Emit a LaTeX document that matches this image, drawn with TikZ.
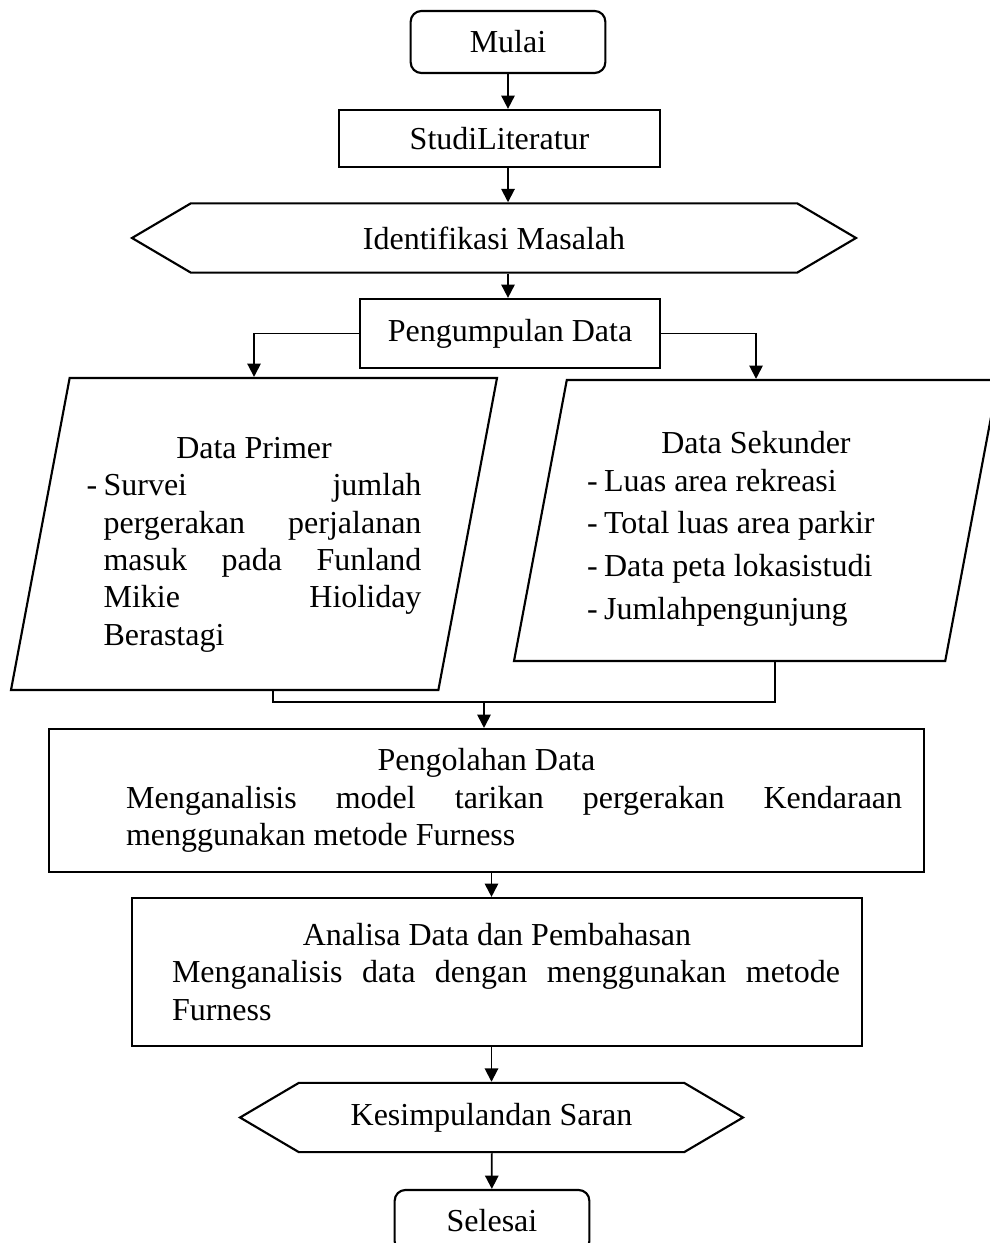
\documentclass[tikz,border=0pt]{standalone}
\usepackage{fontspec}
\setmainfont{Liberation Serif}
\usetikzlibrary{arrows.meta,shapes.geometric,shapes.symbols}

\begin{document}
\begin{tikzpicture}[
    x=0.375pt, y=-0.375pt,
    font=\fontsize{12}{14}\selectfont,
    >={Triangle[length=5pt,width=5pt]},
    % Styles
    terminal/.style={rectangle, draw=black, line width=0.8pt, rounded corners=4pt, minimum width=73pt, minimum height=23.25pt, align=flush center},
    process/.style={rectangle, draw=black, line width=0.8pt, inner xsep=0pt, align=flush left},
    prep/.style={signal, signal to=east and west, signal pointer angle=61, draw=black, line width=0.8pt, minimum height=26pt, align=flush center},
    data/.style={trapezium, trapezium left angle=77, trapezium right angle=103, trapezium stretches body, draw=black, line width=0.8pt, align=flush left},
    arrow/.style={->, line width=0.7pt},
    line/.style={-, line width=0.7pt}
]
\useasboundingbox (0,0) rectangle (989,1243);

% --- Top of the flow ---
\node[terminal] (mulai) at (508,42) {Mulai};
\node[process, align=flush center, minimum width=120.4pt, minimum height=21.4pt] (studi) at (499.5,138.5) {StudiLiteratur};
\node[prep, minimum width=271.5pt] (ident) at (494,238) {Identifikasi Masalah};
\node[process, align=flush center, minimum width=112.5pt, minimum height=25.9pt] (kumpul) at (510,333.5) {Pengumpulan Data};

% --- Data sources ---
\node[data, text width=125.6pt, minimum width=182.25pt, minimum height=117pt] (primer) at (254,534) {%
    \rule{0pt}{16pt}\makebox[125.6pt]{Data Primer}\\
    \makebox[6.4pt][l]{-}\makebox[119.2pt][s]{Survei jumlah}\\
    \hspace*{6.4pt}\makebox[119.2pt][s]{pergerakan perjalanan}\\
    \hspace*{6.4pt}\makebox[119.2pt][s]{masuk pada Funland}\\
    \hspace*{6.4pt}\makebox[119.2pt][s]{Mikie Hioliday}\\
    \hspace*{6.4pt}Berastagi};
\node[data, text width=126.75pt, minimum width=181.5pt, minimum height=105.4pt] (sekunder) at (756,520.5) {%
    \rule{0pt}{14.5pt}\makebox[126.75pt]{Data Sekunder}\\
    \makebox[6.4pt][l]{-}Luas area rekreasi\\[2pt]
    \makebox[6.4pt][l]{-}Total luas area parkir\\[2pt]
    \makebox[6.4pt][l]{-}Data peta lokasistudi\\[2pt]
    \makebox[6.4pt][l]{-}Jumlahpengunjung};

% --- Processing and analysis ---
\node[process, text width=328.1pt, minimum height=53.6pt] (olah) at (486.5,800.5) {%
    \makebox[328.1pt]{Pengolahan Data}\\
    \hspace*{28.9pt}\makebox[291pt][s]{Menganalisis model tarikan pergerakan Kendaraan}\\
    \hspace*{28.9pt}menggunakan metode Furness};
\node[process, text width=273.75pt, minimum height=55.5pt] (analisa) at (497,972) {%
    \makebox[273.75pt]{Analisa Data dan Pembahasan}\\
    \hspace*{15pt}\makebox[250.5pt][s]{Menganalisis data dengan menggunakan metode}\\
    \hspace*{15pt}Furness};

% --- End of the flow ---
\node[prep, minimum width=188.6pt] (simpul) at (491.5,1117.5) {Kesimpulandan Saran};
\node[terminal] (selesai) at (492,1221) {Selesai};

% --- Connections ---
\draw[arrow] (mulai) -- (studi.north -| mulai);
\draw[arrow] (studi.south -| mulai) -- (ident.north -| mulai);
\draw[arrow] (ident.south -| mulai) -- (kumpul.north -| mulai);
\draw[arrow] (kumpul.west) -| (primer.north);
\draw[arrow] (kumpul.east) -| (sekunder.north);

% Merge of both data sources
\coordinate (gabung) at (484,702);
\draw[line] ([xshift=7pt]primer.south) |- (gabung) -| ([xshift=7pt]sekunder.south);
\draw[arrow] (gabung) -- (gabung |- olah.north);

\draw[arrow] (olah.south -| simpul) -- (analisa.north -| simpul);
\draw[arrow] (analisa.south -| simpul) -- (simpul.north);
\draw[arrow] (simpul) -- (selesai);

\end{tikzpicture}
\end{document}
